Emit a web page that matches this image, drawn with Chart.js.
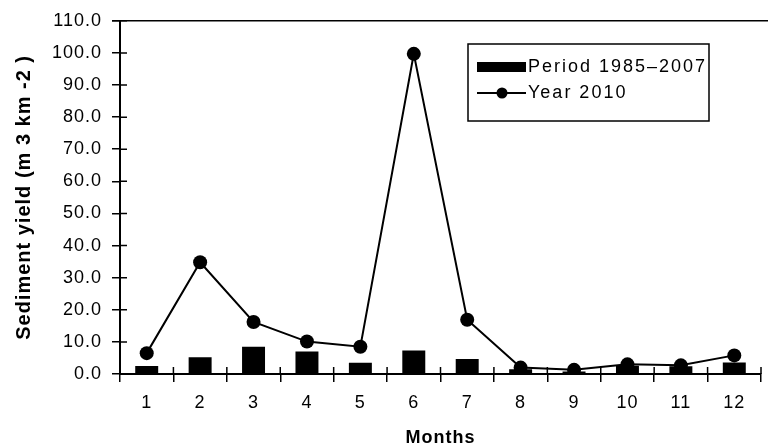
<!DOCTYPE html>
<html>
<head>
<meta charset="utf-8">
<script src="https://cdn.jsdelivr.net/npm/chart.js@4"></script>
<style>
  html, body { margin: 0; padding: 0; background: #fff; }
  #wrap { width: 768px; height: 446px; }
</style>
</head>
<body>
<div id="wrap"><canvas id="myChart"></canvas></div>
<script>
let months = ['1', '2', '3', '4', '5', '6', '7', '8', '9', '10', '11', '12'];
let period_values = [2.5, 5.2, 8.5, 7.0, 3.5, 7.3, 4.7, 1.5, 0.8, 2.6, 2.4, 3.6];
let year2010_values = [6.5, 34.8, 16.2, 10.1, 8.5, 99.7, 16.9, 2.0, 1.3, 3.0, 2.7, 5.8];
let series_labels = ['Period 1985\u20132007', 'Year 2010'];
let y_min = 0, y_max = 110, y_step = 10;

let fontName = "'Liberation Sans', Arial, sans-serif";
let spacing = '1px';

// slightly wider lettering like the scanned figure
let wideText = {
  id: 'wideText',
  beforeUpdate: (chart) => { chart.ctx.letterSpacing = spacing; },
  beforeDraw: (chart) => { chart.ctx.letterSpacing = spacing; }
};

// inner half of the crossing tick marks + top frame line
let axisExtras = {
  id: 'axisExtras',
  beforeDatasetsDraw: (chart) => {
    let ctx = chart.ctx, area = chart.chartArea;
    let xs = chart.scales.x, ys = chart.scales.y;
    ctx.save();
    ctx.strokeStyle = '#000';
    ctx.lineWidth = 1.5;
    ctx.beginPath();
    ys.ticks.forEach((t, i) => {
      let y = ys.getPixelForTick(i);
      ctx.moveTo(area.left, y);
      ctx.lineTo(area.left + 7, y);
    });
    let catW = xs.width / xs.ticks.length;
    for (let i = 0; i <= xs.ticks.length; i++) {
      let x = xs.left + i * catW;
      ctx.moveTo(x, area.bottom);
      ctx.lineTo(x, area.bottom - 7);
    }
    ctx.stroke();
    ctx.beginPath();
    ctx.moveTo(area.left - 8, area.top);
    ctx.lineTo(chart.width, area.top);
    ctx.stroke();
    ctx.restore();
  }
};

// boxed legend inside the plot
let boxLegend = {
  id: 'boxLegend',
  afterDraw: (chart, args, opts) => {
    let ctx = chart.ctx;
    let ds = chart.data.datasets;
    ctx.save();
    ctx.letterSpacing = '2px';
    ctx.strokeStyle = '#000';
    ctx.lineWidth = 1.5;
    ctx.strokeRect(opts.x, opts.y, opts.w, opts.h);
    ctx.font = '18px ' + fontName;
    ctx.textBaseline = 'middle';
    ctx.textAlign = 'left';
    ctx.fillStyle = '#000';
    // bar entry
    let r1 = opts.y + 23;
    ctx.fillRect(opts.x + 9, r1 - 5, 49, 10);
    ctx.fillText(ds[0].label, opts.x + 60, r1);
    // line entry
    let r2 = opts.y + 49;
    ctx.beginPath();
    ctx.lineWidth = 2;
    ctx.moveTo(opts.x + 9, r2);
    ctx.lineTo(opts.x + 58, r2);
    ctx.stroke();
    ctx.beginPath();
    ctx.arc(opts.x + 34, r2, 5.5, 0, Math.PI * 2);
    ctx.fill();
    ctx.fillText(ds[1].label, opts.x + 60, r2);
    ctx.restore();
  }
};

let ctx1 = document.getElementById('myChart').getContext('2d');
let chart1 = new Chart(ctx1, {
  type: 'bar',
  data: {
    labels: months,
    datasets: [{
      type: 'bar',
      label: series_labels[0],
      data: period_values,
      backgroundColor: '#000',
      borderWidth: 0,
      barPercentage: 0.43,
      categoryPercentage: 1.0,
      order: 1
    }, {
      type: 'line',
      label: series_labels[1],
      data: year2010_values,
      borderColor: '#000',
      borderWidth: 2,
      backgroundColor: '#000',
      pointStyle: 'circle',
      pointRadius: 7,
      pointBorderWidth: 0,
      tension: 0,
      fill: false,
      order: 0
    }]
  },
  options: {
    responsive: true,
    maintainAspectRatio: false,
    animation: false,
    layout: { padding: { top: 20, left: 0, right: 0, bottom: 0 } },
    plugins: {
      legend: { display: false },
      tooltip: { enabled: false },
      boxLegend: { x: 468, y: 44, w: 241, h: 77 }
    },
    scales: {
      x: {
        offset: true,
        afterFit: (s) => { s.height = 72; },
        grid: {
          offset: true,
          drawOnChartArea: false,
          drawTicks: true,
          tickLength: 8,
          color: '#000',
          lineWidth: 1.5
        },
        border: { display: true, color: '#000', width: 2 },
        ticks: {
          color: '#000',
          padding: 10,
          font: { family: fontName, size: 18 }
        },
        title: {
          display: true,
          text: 'Months',
          color: '#000',
          padding: { top: 0, bottom: -3 },
          font: { family: fontName, size: 18, weight: 'bold' }
        }
      },
      y: {
        min: y_min,
        max: y_max,
        afterFit: (s) => { s.width = 120; },
        grid: {
          drawOnChartArea: false,
          drawTicks: true,
          tickLength: 8,
          color: '#000',
          lineWidth: 1.5
        },
        border: { display: true, color: '#000', width: 2 },
        ticks: {
          stepSize: y_step,
          color: '#000',
          padding: 10,
          font: { family: fontName, size: 18 },
          callback: (v) => v.toFixed(1)
        },
        title: {
          display: true,
          text: 'Sediment yield (m 3 km -2 )',
          color: '#000',
          padding: { top: 12, bottom: 0 },
          font: { family: fontName, size: 20, weight: 'bold' }
        }
      }
    }
  },
  plugins: [wideText, axisExtras, boxLegend]
});
</script>
</body>
</html>
